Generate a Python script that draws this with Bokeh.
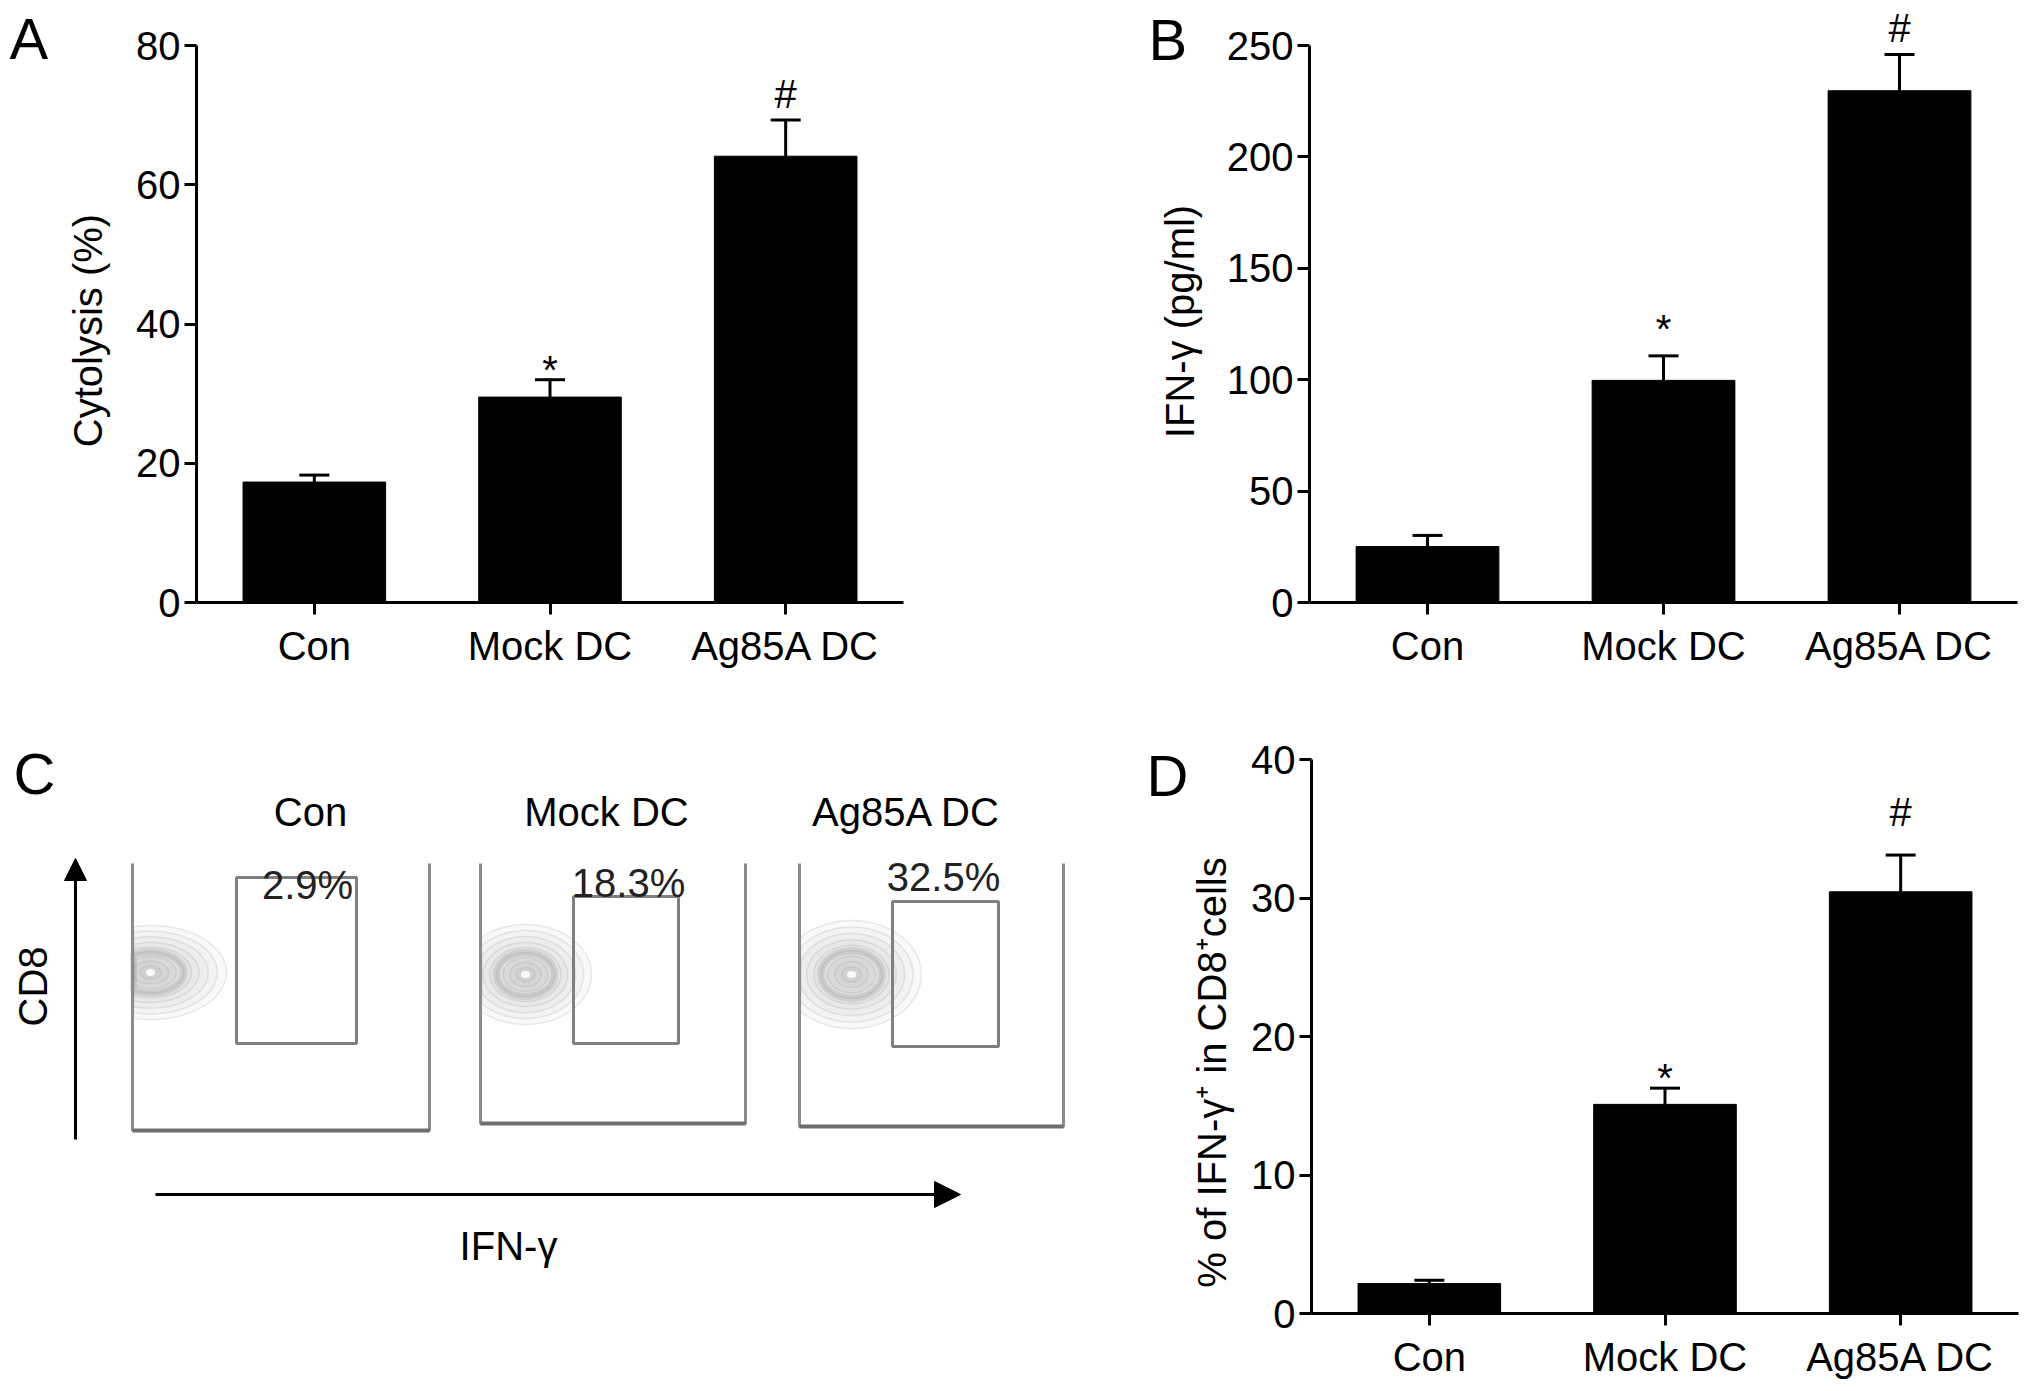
import numpy as np
from bokeh.plotting import figure
from bokeh.models import (ColumnDataSource, Label, LabelSet, Range1d, LinearAxis,
                          Arrow, NormalHead, Whisker, TeeHead, FixedTicker)
from bokeh.layouts import row, column
from bokeh.embed import file_html
from bokeh.resources import INLINE
from bokeh.core.properties import value

# ---------------- data ----------------
categories = ["Con", "Mock DC", "Ag85A DC"]

cyto_mean = [17.3, 29.5, 64.1]
cyto_err = [1.0, 2.5, 5.2]
cyto_sig = ["", "*", "#"]
cyto_ticks = [0, 20, 40, 60, 80]

ifn_mean = [25.1, 99.7, 229.7]
ifn_err = [5.0, 11.0, 16.3]
ifn_sig = ["", "*", "#"]
ifn_ticks = [0, 50, 100, 150, 200, 250]

pct_mean = [2.16, 15.1, 30.45]
pct_err = [0.24, 1.17, 2.65]
pct_sig = ["", "*", "#"]
pct_ticks = [0, 10, 20, 30, 40]

flow_groups = ["Con", "Mock DC", "Ag85A DC"]
flow_pct = ["2.9%", "18.3%", "32.5%"]

FONT = "Liberation Sans"


def bar_panel(box, axis_px, mean, err, sig, sig_off, ticks, ylabel, ylabel_px,
              letter, letter_px):
    """box: figure (left, top, width, height) on the page;
    axis_px: page pixels of (x of first edge, x of last edge, y of 0, y of max tick)."""
    fx, fy, fw, fh = box
    x0, x1, y0, y1 = axis_px
    n = len(categories)
    ymax = ticks[-1]
    sx = n / (x1 - x0)
    sy = ymax / (y0 - y1)
    to_x = lambda px: 0.5 + (px - x0) * sx
    to_y = lambda py: (y0 - py) * sy

    p = figure(x_range=Range1d(to_x(fx), to_x(fx + fw)),
               y_range=Range1d(to_y(fy + fh), to_y(fy)),
               width=fw, height=fh, output_backend="svg", toolbar_location=None,
               min_border=0, outline_line_color=None,
               x_axis_location=None, y_axis_location=None)
    p.xgrid.visible = False
    p.ygrid.visible = False

    xpos = list(range(1, n + 1))
    src = ColumnDataSource(dict(x=xpos, mean=mean,
                                top=[m + e for m, e in zip(mean, err)],
                                sig=sig, off=[sig_off.get(s, 0) for s in sig]))
    p.vbar(x="x", top="mean", width=0.605, source=src,
           fill_color="black", line_color="black", line_width=1)
    p.add_layout(Whisker(base="x", lower="mean", upper="top", source=src,
                         dimension="height", line_color="black", line_width=3,
                         upper_head=TeeHead(size=30, line_width=3, line_color="black"),
                         lower_head=None))
    p.add_layout(LabelSet(x="x", y="top", text="sig", y_offset="off", source=src,
                          text_align="center", text_baseline="alphabetic",
                          text_font=value(FONT), text_font_size="40px",
                          text_color="black"))

    xa = LinearAxis(fixed_location=0, bounds=(0.5, n + 0.5),
                    ticker=FixedTicker(ticks=xpos),
                    major_label_overrides={x: c for x, c in zip(xpos, categories)})
    ya = LinearAxis(fixed_location=0.5, bounds=(0, ymax),
                    ticker=FixedTicker(ticks=ticks))
    for ax in (xa, ya):
        ax.axis_line_width = 3
        ax.axis_line_color = "black"
        ax.major_tick_line_width = 3
        ax.major_tick_line_color = "black"
        ax.major_tick_out = 12
        ax.major_tick_in = 0
        ax.minor_tick_line_color = None
        ax.major_label_text_font = FONT
        ax.major_label_text_font_size = "40px"
        ax.major_label_text_color = "black"
    xa.major_label_standoff = 9
    ya.major_label_standoff = 4
    p.add_layout(xa, "below")
    p.add_layout(ya, "left")

    lx, ly = ylabel_px
    p.add_layout(Label(x=to_x(lx), y=to_y(ly), text=ylabel, angle=np.pi / 2,
                       text_align="center", text_baseline="middle", text_font=FONT,
                       text_font_size="40px", text_color="black"))
    ax_, ay_ = letter_px
    p.add_layout(Label(x=to_x(ax_), y=to_y(ay_), text=letter, text_font=FONT,
                       text_font_size="58px", text_baseline="alphabetic",
                       text_align="left", text_color="black"))
    return p


pA = bar_panel((0, 0, 1100, 705), (196, 903, 602, 45),
               cyto_mean, cyto_err, cyto_sig, {"*": -4, "#": 12},
               cyto_ticks, "Cytolysis (%)", (87, 330), "A", (9, 38))
pB = bar_panel((1100, 0, 930, 705), (1309, 2017, 602, 45),
               ifn_mean, ifn_err, ifn_sig, {"*": 13, "#": 12},
               ifn_ticks, "IFN-γ (pg/ml)", (1179, 321), "B", (1148, 39))
pD = bar_panel((1100, 705, 930, 685), (1311, 2018, 1313, 759),
               pct_mean, pct_err, pct_sig, {"*": -4, "#": 29},
               pct_ticks, "% of IFN-γ⁺ in CD8⁺cells", (1211, 1072), "D", (1146, 775))

# ---------------- panel C (flow cytometry schematic) ----------------
pC = figure(x_range=Range1d(0, 1100), y_range=Range1d(1390, 705),
            width=1100, height=685, output_backend="svg", toolbar_location=None,
            min_border=0, outline_line_color=None, x_axis_location=None,
            y_axis_location=None)
pC.xgrid.visible = False
pC.ygrid.visible = False

frame_l = [132, 480, 799]
frame_r = [429, 745, 1063]
frame_t = [863, 863, 863]
frame_b = [1130, 1123, 1126]
gate_l = [236, 573, 892]
gate_r = [356, 678, 998]
gate_t = [877, 896, 901]
gate_b = [1043, 1043, 1046]
blob_x = [150, 525, 851]
blob_y = [972, 974, 974]
blob_rx = [76, 66, 70]
blob_ry = [47, 50, 54]
title_x = [310, 606, 906]
title_y = [811, 811, 811]
pct_x = [307, 628, 943]
pct_y = [884, 882, 876]

ring_scales = [1.0, 0.88, 0.76, 0.64, 0.54, 0.44, 0.34, 0.24, 0.14]
theta = np.linspace(0, 2 * np.pi, 80)
for bx, by, rx, ry, fl in zip(blob_x, blob_y, blob_rx, blob_ry, frame_l):
    xs, ys = [], []
    for s in ring_scales:
        xs.append(list(np.maximum(bx + rx * s * np.cos(theta), fl + 1)))
        ys.append(list(by + ry * s * np.sin(theta)))
    pC.patches(xs=xs, ys=ys, fill_color="#959595", fill_alpha=0.06,
               line_color="#8a8a8a", line_alpha=0.17, line_width=1.5)
    pC.patches(xs=[xs[5]], ys=[ys[5]], fill_color=None,
               line_color="#6a6a6a", line_alpha=0.16, line_width=7)
    pC.ellipse(x=[bx], y=[by], width=[9], height=[7],
               width_units="screen", height_units="screen",
               fill_color="white", fill_alpha=0.9, line_color=None)

for l, r, t, b in zip(frame_l, frame_r, frame_t, frame_b):
    pC.line(x=[l, l, r, r], y=[t, b, b, t], line_color="#8c8c8c", line_width=3)
    pC.line(x=[l, r], y=[b, b], line_color="#6e6e6e", line_width=4)

pC.quad(left=gate_l, right=gate_r, top=gate_t, bottom=gate_b,
        fill_color=None, line_color="#808080", line_width=3)

pC.text(x=title_x, y=title_y, text=flow_groups, text_align="center", text_baseline="middle",
        text_font=value(FONT), text_font_size="40px", text_color="black")
pC.text(x=pct_x, y=pct_y, text=flow_pct, text_align="center", text_baseline="middle",
        text_font=value(FONT), text_font_size="40px", text_color="#222222")

pC.add_layout(Arrow(end=NormalHead(size=22, fill_color="black", line_color="black"),
                    x_start=75, y_start=1139, x_end=75, y_end=858,
                    line_width=3, line_color="black"))
pC.add_layout(Arrow(end=NormalHead(size=26, fill_color="black", line_color="black"),
                    x_start=155, y_start=1194, x_end=960, y_end=1194,
                    line_width=3, line_color="black"))

pC.add_layout(Label(x=32, y=986, text="CD8", angle=np.pi / 2, text_align="center",
                    text_baseline="middle", text_font=FONT, text_font_size="40px",
                    text_color="black"))
pC.add_layout(Label(x=508, y=1245, text="IFN-γ", text_align="center",
                    text_baseline="middle", text_font=FONT, text_font_size="40px",
                    text_color="black"))
pC.add_layout(Label(x=13, y=773, text="C", text_align="left",
                    text_baseline="alphabetic", text_font=FONT, text_font_size="58px",
                    text_color="black"))

layout = column(row(pA, pB), row(pC, pD))
open("out.html", "w").write(file_html(layout, INLINE))
